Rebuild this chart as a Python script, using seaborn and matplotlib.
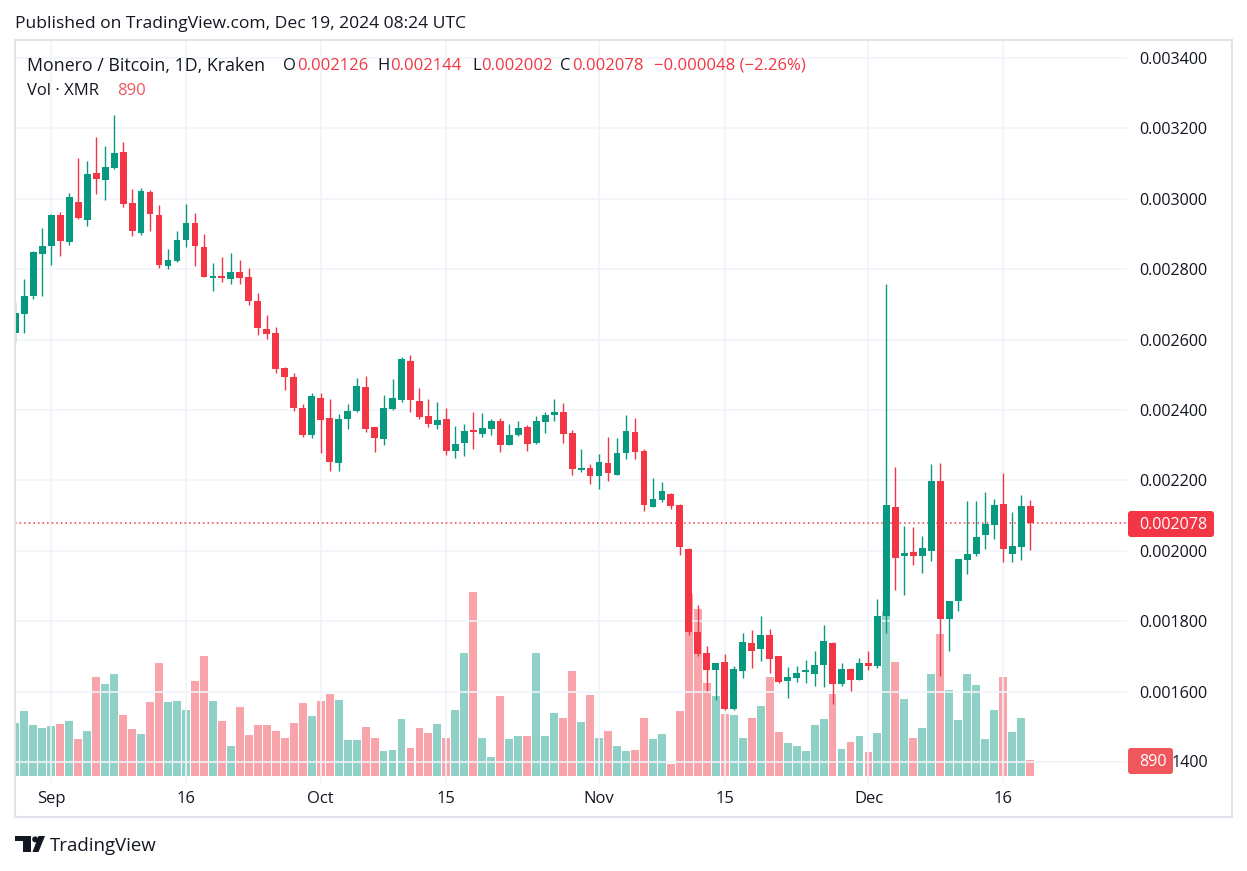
import numpy as np
import pandas as pd
import matplotlib
matplotlib.use('Agg')
import matplotlib.pyplot as plt
import matplotlib.dates as mdates
from matplotlib.patches import Rectangle, Polygon, Circle, FancyBboxPatch
import seaborn as sns

# daily XMR/BTC candles, prices in 1e-6 BTC
dates = pd.date_range('2024-08-28', '2024-12-19', freq='D')

opens = [2618, 2674, 2725, 2844,
         2867, 2954, 2878, 2991, 2941, 3073, 3054, 3088, 3133, 2988, 2904, 3019, 2954, 2810, 2824,
         2883, 2931, 2863, 2776, 2781, 2773, 2792, 2778, 2710, 2630, 2619, 2519, 2494, 2406, 2329,
         2434, 2377, 2250, 2374, 2396, 2465, 2352, 2318, 2403, 2429, 2539, 2426, 2383, 2358, 2374,
         2284, 2307, 2344, 2333, 2347, 2369, 2301, 2330, 2352, 2307, 2367, 2385, 2394, 2335, 2230, 2235,
         2213, 2249, 2216, 2279, 2337, 2283, 2125, 2144, 2161, 2131, 2005, 1770, 1710, 1661, 1684,
         1551, 1659, 1739, 1721, 1761, 1701, 1631, 1640, 1656, 1651, 1676, 1738, 1622, 1664, 1634,
         1681, 1673, 1815, 2124, 1986, 1997, 1986, 2000, 2198, 1806, 1856, 1975, 1990, 2046, 2074,
         2133, 1992, 2012, 2126]
highs = [2708, 2772, 2853, 2917,
         2956, 2962, 3016, 3116, 3107, 3176, 3150, 3238, 3161, 3028, 3031, 3025, 2982, 2857, 2908,
         2985, 2960, 2900, 2818, 2835, 2846, 2826, 2803, 2732, 2670, 2636, 2522, 2505, 2417, 2448,
         2448, 2431, 2389, 2417, 2491, 2497, 2353, 2443, 2488, 2551, 2556, 2462, 2431, 2423, 2406,
         2354, 2360, 2394, 2391, 2374, 2377, 2360, 2369, 2357, 2383, 2394, 2431, 2420, 2343, 2289, 2247,
         2275, 2323, 2320, 2386, 2377, 2289, 2207, 2195, 2164, 2132, 2009, 1847, 1729, 1682, 1707,
         1673, 1766, 1775, 1815, 1778, 1702, 1670, 1673, 1690, 1715, 1789, 1740, 1681, 1667, 1695,
         1715, 1863, 2758, 2238, 2071, 2068, 2043, 2247, 2249, 1858, 1978, 2142, 2142, 2168, 2147,
         2221, 2110, 2158, 2144]
lows = [2594, 2620, 2716, 2725,
        2813, 2838, 2870, 2943, 2924, 3014, 2997, 3086, 2978, 2895, 2898, 2909, 2804, 2801, 2821,
        2864, 2809, 2778, 2739, 2764, 2759, 2759, 2699, 2614, 2602, 2506, 2458, 2398, 2324, 2321,
        2279, 2227, 2227, 2347, 2395, 2338, 2281, 2301, 2401, 2424, 2395, 2375, 2352, 2347, 2273,
        2264, 2270, 2290, 2324, 2330, 2281, 2300, 2327, 2284, 2302, 2335, 2370, 2307, 2216, 2225, 2191,
        2176, 2199, 2215, 2262, 2262, 2114, 2124, 2140, 2120, 1989, 1762, 1702, 1602, 1576, 1548,
        1549, 1640, 1668, 1688, 1654, 1625, 1583, 1628, 1625, 1617, 1614, 1566, 1617, 1602, 1633,
        1661, 1668, 1766, 1889, 1875, 1960, 1938, 1972, 1644, 1716, 1830, 1935, 1986, 2006, 2034,
        1969, 1969, 1975, 2002]
closes = [2675, 2724, 2849, 2866,
          2954, 2881, 3005, 2946, 3070, 3056, 3090, 3130, 2986, 2909, 3022, 2958, 2813, 2825, 2883,
          2931, 2867, 2779, 2781, 2776, 2792, 2776, 2710, 2634, 2617, 2517, 2495, 2406, 2329, 2440,
          2372, 2253, 2374, 2397, 2468, 2347, 2321, 2406, 2434, 2545, 2429, 2381, 2361, 2372, 2284,
          2303, 2340, 2338, 2349, 2369, 2301, 2329, 2349, 2304, 2369, 2386, 2394, 2333, 2233, 2235, 2213,
          2252, 2222, 2278, 2340, 2282, 2131, 2147, 2170, 2128, 2012, 1770, 1708, 1661, 1681, 1551,
          1664, 1741, 1716, 1761, 1693, 1628, 1641, 1653, 1659, 1675, 1744, 1622, 1664, 1634, 1681,
          1673, 1815, 2130, 1980, 1994, 1986, 2008, 2198, 1807, 1857, 1977, 1991, 2039, 2076, 2130,
          2006, 2014, 2126, 2078]
volumes = [2950, 3610, 2840, 2670,
           2780, 2890, 3060, 2060, 2500, 5500, 5120, 5670, 3390, 2610, 2340, 4110, 6280, 4110, 4170,
           3670, 5280, 6670, 4170, 3060, 1670, 3840, 2280, 2840, 2840, 2500, 2110, 2950, 4060, 3340,
           4170, 4560, 4230, 2000, 2000, 2720, 2110, 1390, 1450, 3170, 1560, 2670, 2390, 2890, 2110,
           3670, 6840, 10230, 2110, 1060, 4450, 2060, 2220, 2220, 6840, 2220, 3500, 3220, 5840, 3000, 4500,
           2110, 2500, 1670, 1390, 1450, 3220, 2060, 2340, 670, 3610, 10120, 9290, 5170, 4450, 3450,
           3390, 2110, 3220, 3890, 5500, 2450, 1830, 1670, 1390, 2840, 3170, 4560, 1500, 1890, 2220,
           1330, 2390, 9170, 6340, 4280, 2110, 2670, 5670, 7900, 4780, 3110, 5670, 5060, 2060, 3670,
           5500, 2450, 3220, 890]

price_ticks = [0.0014, 0.0016, 0.0018, 0.0020, 0.0022, 0.0024, 0.0026, 0.0028, 0.0030, 0.0032, 0.0034]
date_ticks = ['2024-09-01', '2024-09-16', '2024-10-01', '2024-10-15',
              '2024-11-01', '2024-11-15', '2024-12-01', '2024-12-16']
date_labels = ['Sep', '16', 'Oct', '15', 'Nov', '15', 'Dec', '16']

df = pd.DataFrame({'date': dates, 'open': np.array(opens) / 1e6, 'high': np.array(highs) / 1e6,
                   'low': np.array(lows) / 1e6, 'close': np.array(closes) / 1e6, 'volume': volumes})
df['x'] = mdates.date2num(df['date'])
df['up'] = df['close'] >= df['open']

GREEN = '#089981'
RED = '#F23645'
VOLRED = '#f0575d'
DARK = '#131722'
GRID = '#f0f3fa'

sns.set_theme(style='white')
plt.rcParams['font.family'] = ['Open Sans', 'DejaVu Sans']

W, H = 1247, 871
fig = plt.figure(figsize=(W / 100, H / 100), dpi=100)
fig.patch.set_facecolor('white')

def fx(x):
    return x / W

def fy(y):
    return 1 - y / H

# plot box in pixels
left, right, top, bottom = 15, 1127, 40, 783
rect = [fx(left), fy(bottom), fx(right) - fx(left), fy(top) - fy(bottom)]

ax_v = fig.add_axes(rect, zorder=1)
ax = fig.add_axes(rect, zorder=2, sharex=ax_v)
ax.patch.set_alpha(0)

sep1 = mdates.date2num(pd.Timestamp('2024-09-01'))
ax_v.set_xlim(sep1 - 4.04, sep1 + 119.79)

# volume bars
vol_colors = np.where(df['up'], GREEN, RED)
ax_v.bar(df['x'], df['volume'], width=0.88, color=vol_colors, alpha=0.45, linewidth=0)
ax_v.set_ylim(-389, 40922)
ax_v.axis('off')

# grid
for p in price_ticks:
    ax.axhline(p, color=GRID, lw=1.2, zorder=0)
for d in date_ticks:
    ax.axvline(mdates.date2num(pd.Timestamp(d)), color=GRID, lw=1.2, zorder=0)

# candles
colors = np.where(df['up'], GREEN, RED)
ax.vlines(df['x'], df['low'], df['high'], colors=colors, lw=1.0, zorder=2)
body_lo = np.minimum(df['open'], df['close'])
body_h = np.maximum((df['close'] - df['open']).abs(), 4e-6)
ax.bar(df['x'], body_h, bottom=body_lo, width=0.76, color=colors, linewidth=0, zorder=3)

last_close = df['close'].iloc[-1]
ax.axhline(last_close, color=RED, lw=1.1, ls=(0, (1, 2)), zorder=1)

ax.set_ylim(0.0013403, 0.0034511)
ax.yaxis.tick_right()
ax.set_yticks(price_ticks)
# lowest label is partly hidden by the volume tag, only "1400" shows
ax.set_yticklabels([''] + [f'{p:.6f}' for p in price_ticks[1:]])
ax.set_xticks([mdates.date2num(pd.Timestamp(d)) for d in date_ticks])
ax.set_xticklabels(date_labels)
ax.tick_params(axis='y', length=0, pad=8.5, labelsize=11.6, labelcolor=DARK)
ax.tick_params(axis='x', length=0, pad=6, labelsize=12, labelcolor=DARK)
for s in ax.spines.values():
    s.set_visible(False)

# overlay in pixel coordinates for frame, tags and footer
ov = fig.add_axes([0, 0, 1, 1], zorder=10)
ov.set_xlim(0, W)
ov.set_ylim(H, 0)
ov.axis('off')
ov.patch.set_alpha(0)

ov.add_patch(Rectangle((15, 40), 1217, 777, fill=False, ec='#e0e3eb', lw=1.5))

ov.add_patch(FancyBboxPatch((1128, 511), 86, 26, boxstyle='round,pad=0,rounding_size=3',
                            fc=RED, ec='none'))
ov.text(1139, 525, '0.002078', color='white', fontsize=11.6, va='center', ha='left')
ov.add_patch(FancyBboxPatch((1128, 748), 45, 26, boxstyle='round,pad=0,rounding_size=3',
                            fc=VOLRED, ec='none'))
ov.text(1139, 762, '890', color='white', fontsize=11.6, va='center', ha='left')
ov.text(1208, 763, '1400', color=DARK, fontsize=11.6, va='center', ha='right')

# header
ov.text(15, 24, 'Published on TradingView.com, Dec 19, 2024 08:24 UTC',
        fontsize=12.6, color=DARK, va='center')
ov.text(27, 66, 'Monero / Bitcoin, 1D, Kraken', fontsize=12.8, color=DARK, va='center')
for lx, lab, vx, val in [(283, 'O', 297, '0.002126'), (377, 'H', 390, '0.002144'),
                         (472, 'L', 481, '0.002002'), (560, 'C', 572, '0.002078')]:
    ov.text(lx, 66, lab, fontsize=12, color=DARK, va='center')
    ov.text(vx, 66, val, fontsize=12, color=RED, va='center')
ov.text(654, 66, '\u22120.000048 (\u22122.26%)', fontsize=12, color=RED, va='center')
ov.text(27, 91, 'Vol \u00b7 XMR', fontsize=12, color=DARK, va='center')
ov.text(117, 91, '890', fontsize=12, color=VOLRED, va='center')

# footer logo
ov.add_patch(Rectangle((15, 836), 16, 4.6, color=DARK, lw=0))
ov.add_patch(Rectangle((23.4, 836), 7.6, 16, color=DARK, lw=0))
ov.add_patch(Circle((35.2, 839.4), 3.0, color=DARK, lw=0))
ov.add_patch(Polygon([(38.5, 836), (45, 836), (38.5, 852), (32.5, 852)], color=DARK, lw=0))
ov.text(50, 846, 'TradingView', fontsize=13.4, color=DARK, va='center')

fig.savefig('out.png', dpi=100)
